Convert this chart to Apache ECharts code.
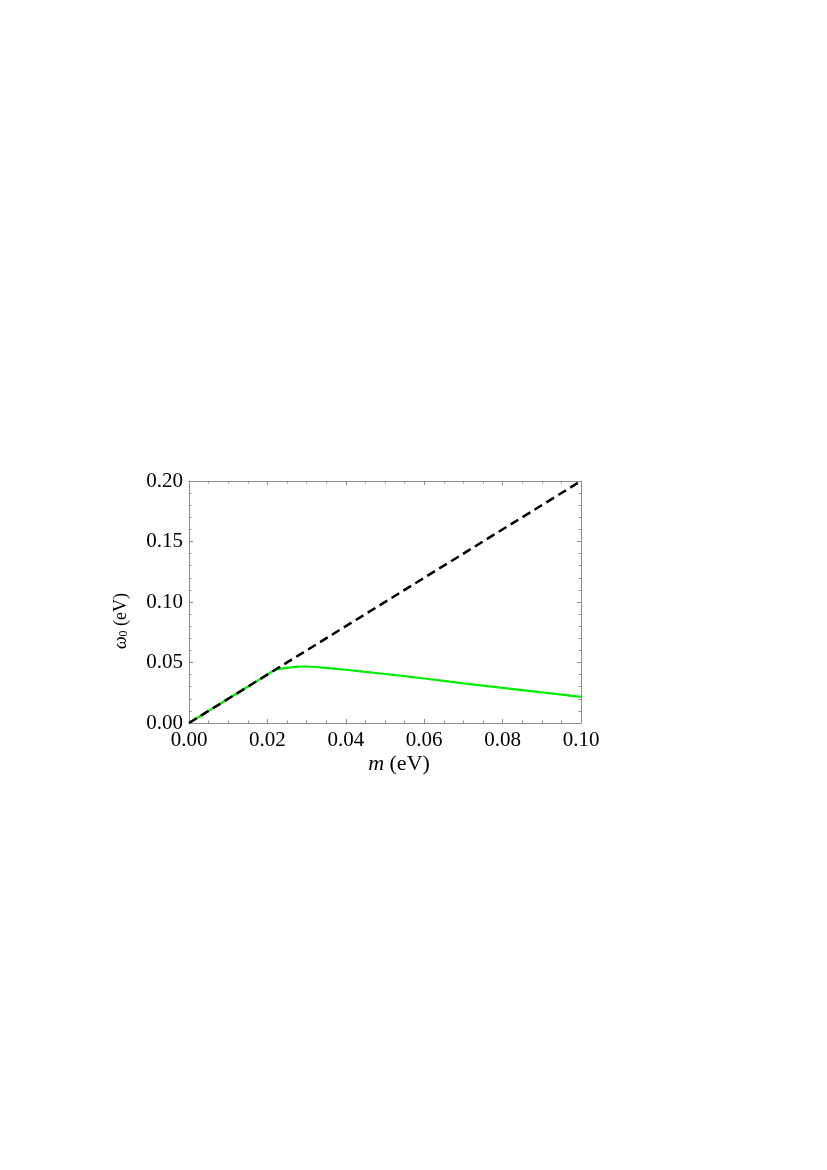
<!DOCTYPE html>
<html>
<head>
<meta charset="utf-8">
<script src="https://cdn.jsdelivr.net/npm/echarts@6/dist/echarts.min.js"></script>
<style>
  html, body { margin: 0; padding: 0; background: #fff; }
  #chart { width: 827px; height: 1170px; }
</style>
</head>
<body>
<div id="chart"></div>
<script>
  // green curve, omega_0 vs m
  var massValues = [0, 0.005, 0.01, 0.015, 0.02, 0.022, 0.025, 0.028, 0.03, 0.035, 0.04, 0.05, 0.06, 0.07, 0.08, 0.09, 0.1];
  var omegaValues = [0, 0.010, 0.020, 0.030, 0.040, 0.0440, 0.0456, 0.0466, 0.0467, 0.0455, 0.0440, 0.0405, 0.0368, 0.0328, 0.0290, 0.0253, 0.0216];
  // dashed line omega = 2m
  var lineMass = [0, 0.1];
  var lineOmega = [0, 0.2];

  var xTicks = { min: 0, max: 0.1, interval: 0.02 };
  var yTicks = { min: 0, max: 0.2, interval: 0.05 };

  var pair = function (xs, ys) {
    return xs.map(function (x, i) { return [x, ys[i]]; });
  };

  var font = 'Liberation Serif';
  var frame = '#8c8c8c';

  var myChart = echarts.init(document.getElementById('chart'));

  var baseAxis = {
    type: 'value',
    axisLine: { show: true, onZero: false, lineStyle: { color: frame, width: 1 } },
    axisTick: { show: true, inside: true, length: 4, lineStyle: { color: frame } },
    minorTick: { show: true, length: 2.5, lineStyle: { color: frame } },
    splitLine: { show: false },
    minorSplitLine: { show: false }
  };

  var option = {
    animation: false,
    backgroundColor: '#fff',
    grid: { left: 189, top: 481, width: 392, height: 242, containLabel: false },
    xAxis: [
      Object.assign({}, baseAxis, {
        position: 'bottom',
        min: xTicks.min, max: xTicks.max, interval: xTicks.interval,
        minorTick: Object.assign({}, baseAxis.minorTick, { splitNumber: 4 }),
        axisLabel: {
          color: '#000', fontFamily: font, fontSize: 21, margin: 7,
          formatter: function (v) { return v.toFixed(2); }
        },
        name: '{i|m} (eV)',
        nameLocation: 'middle',
        nameGap: 30,
        nameTextStyle: {
          color: '#000', fontFamily: font, fontSize: 22, padding: [0, 0, 0, 28],
          rich: { i: { fontStyle: 'italic', fontFamily: font, fontSize: 22, color: '#000' } }
        }
      }),
      Object.assign({}, baseAxis, {
        position: 'top',
        min: xTicks.min, max: xTicks.max, interval: xTicks.interval,
        minorTick: Object.assign({}, baseAxis.minorTick, { splitNumber: 4 }),
        axisLabel: { show: false }
      })
    ],
    yAxis: [
      Object.assign({}, baseAxis, {
        position: 'left',
        min: yTicks.min, max: yTicks.max, interval: yTicks.interval,
        minorTick: Object.assign({}, baseAxis.minorTick, { splitNumber: 5 }),
        axisLabel: {
          color: '#000', fontFamily: font, fontSize: 21, margin: 6,
          formatter: function (v) { return v.toFixed(2); }
        },
        name: '{w|ω}{s|0} (eV)',
        nameLocation: 'middle',
        nameRotate: 90,
        nameGap: 59,
        nameTextStyle: {
          color: '#000', fontFamily: font, fontSize: 18, padding: [0, 38, 0, 0],
          rich: {
            w: { fontStyle: 'italic', fontFamily: font, fontSize: 18, color: '#000' },
            s: { fontFamily: font, fontSize: 12, color: '#000', verticalAlign: 'bottom', padding: [6, 0, 0, 0] }
          }
        }
      }),
      Object.assign({}, baseAxis, {
        position: 'right',
        min: yTicks.min, max: yTicks.max, interval: yTicks.interval,
        minorTick: Object.assign({}, baseAxis.minorTick, { splitNumber: 5 }),
        axisLabel: { show: false }
      })
    ],
    series: [
      {
        type: 'line',
        data: pair(massValues, omegaValues),
        smooth: 0.25,
        showSymbol: false,
        lineStyle: { color: '#00ee00', width: 2.2 },
        z: 2
      },
      {
        type: 'line',
        data: pair(lineMass, lineOmega),
        showSymbol: false,
        lineStyle: { color: '#000', width: 2.5, type: [9, 5] },
        z: 3
      }
    ]
  };

  myChart.setOption(option);
  window.addEventListener('resize', function () {
    myChart.resize();
  });
</script>
</body>
</html>
